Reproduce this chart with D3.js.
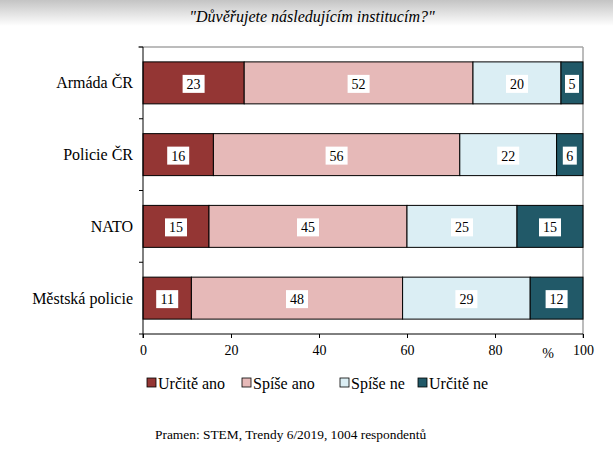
<!DOCTYPE html>
<html><head><meta charset="utf-8">
<script src="https://cdn.jsdelivr.net/npm/d3@7"></script>
<style>body{margin:0;background:#fff}svg{display:block}</style>
</head><body>
<script>
const categories = ["Armáda ČR", "Policie ČR", "NATO", "Městská policie"];
const seriesNames = ["Určitě ano", "Spíše ano", "Spíše ne", "Určitě ne"];
const urciteAno = [23, 16, 15, 11];
const spiseAno = [52, 56, 45, 48];
const spiseNe = [20, 22, 25, 29];
const urciteNe = [5, 6, 15, 12];
const xTicks = [0, 20, 40, 60, 80, 100];
const colors = ["#943634", "#E6B9B8", "#DBEEF4", "#215968"];
const title = "\"Důvěřujete následujícím institucím?\"";
const source = "Pramen: STEM, Trendy 6/2019, 1004 respondentů";

(function(){
const FONT = "'Liberation Serif', 'Times New Roman', Times, 'DejaVu Serif', serif";
const W = 613, H = 465;
const svg = d3.select("body").append("svg").attr("width", W).attr("height", H);
const defs = svg.append("defs");
const g = defs.append("linearGradient").attr("id","bg").attr("x1",0).attr("y1",0).attr("x2",0).attr("y2",1);
g.append("stop").attr("offset",0).attr("stop-color","#c4c4c4");
g.append("stop").attr("offset",1).attr("stop-color","#ffffff");
svg.append("rect").attr("x",0).attr("y",0).attr("width",W).attr("height",26).attr("fill","url(#bg)");

svg.append("text").attr("x", 312).attr("y", 22).attr("text-anchor","middle")
  .style("font-style","italic").style("font-size","16px").text(title);

const pL = 143, pR = 583, pT = 47, pB = 334;
const x = d3.scaleLinear().domain([0,100]).range([pL, pR]);
const y = d3.scaleBand().domain(categories).range([pT, pB]).paddingInner(0.415).paddingOuter(0.2075);

svg.append("line").attr("x1", pL-5).attr("x2", pR).attr("y1", pT).attr("y2", pT).attr("stroke","#a6a6a6").attr("stroke-width",1.5);
svg.append("line").attr("x1", pR).attr("x2", pR).attr("y1", pT).attr("y2", pB+4).attr("stroke","#a6a6a6").attr("stroke-width",1.5);

const series = [urciteAno, spiseAno, spiseNe, urciteNe];
const rows = categories.map((c,i) => {
  let acc = 0;
  return series.map((s,k) => { const d = {cat:c, k, v:s[i], x0:acc, x1:acc+s[i]}; acc += s[i]; return d; });
}).flat();

svg.append("g").selectAll("rect").data(rows).join("rect")
  .attr("x", d => x(d.x0)).attr("width", d => x(d.x1)-x(d.x0))
  .attr("y", d => y(d.cat)).attr("height", y.bandwidth())
  .attr("fill", d => colors[d.k]).attr("stroke","#000").attr("stroke-width",1);

const lab = svg.append("g").selectAll("g").data(rows).join("g")
  .attr("transform", d => `translate(${x((d.x0+d.x1)/2)},${y(d.cat)+y.bandwidth()/2+1})`);
lab.append("rect").attr("x", d => d.v>=10 ? -11 : -7).attr("y",-9)
  .attr("width", d => d.v>=10 ? 22 : 14).attr("height",18).attr("fill","#fff");
lab.append("text").attr("text-anchor","middle").attr("dy","0.35em").style("font-size","14px").text(d => d.v);

const xa = svg.append("g").attr("transform",`translate(0,${pB})`)
  .call(d3.axisBottom(x).tickValues(xTicks).tickSize(4).tickPadding(7));
xa.select(".domain").attr("stroke","#000").attr("d", `M${pL},0H${pR}`);
xa.selectAll("text").style("font-size","14px");
svg.append("text").attr("x",548).attr("y",358).attr("text-anchor","middle").style("font-size","14px").text("%");

svg.append("line").attr("x1",pL).attr("x2",pL).attr("y1",pT).attr("y2",pB+4).attr("stroke","#000");
const bounds = d3.range(categories.length+1).map(i => pT + i*(pB-pT)/categories.length);
svg.append("g").selectAll("line").data(bounds).join("line")
  .attr("x1",pL-4).attr("x2",pL).attr("y1",d=>d).attr("y2",d=>d).attr("stroke","#000");
svg.append("g").selectAll("text").data(categories).join("text")
  .attr("x", 133).attr("y", d => y(d)+y.bandwidth()/2).attr("dy","0.35em")
  .attr("text-anchor","end").style("font-size","16px").text(d => d);

const legX = [147, 242, 340, 418];
const leg = svg.append("g").selectAll("g").data(seriesNames).join("g")
  .attr("transform",(d,i)=>`translate(${legX[i]},383)`);
leg.append("rect").attr("x",0).attr("y",-5).attr("width",9).attr("height",9)
  .attr("fill",(d,i)=>colors[i]).attr("stroke","#000").attr("stroke-width",0.8);
leg.append("text").attr("x",11).attr("dy","0.35em").style("font-size","16px").text(d=>d);

svg.append("text").attr("x",155).attr("y",439).style("font-size","13.4px").text(source);

svg.selectAll("text").style("font-family", FONT).attr("fill","#000");
})();
</script>
</body></html>
